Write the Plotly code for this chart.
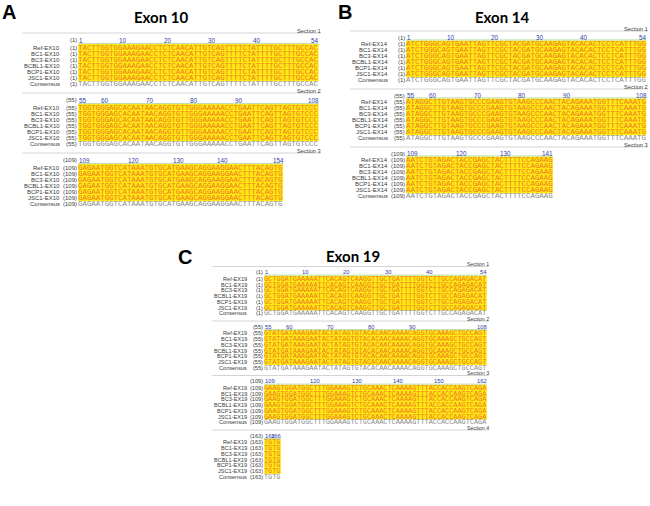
import plotly.graph_objects as go

W, H = 650, 506

SAMPLES = ["Ref", "BC1", "BC3", "BCBL1", "BCP1", "JSC1"]

EXON10_SEQ = [
    "TACTTGGTGGAAAGAACCTCTCAACATTGTCAGTTTTCTATTTTGCTTTGCCAC",
    "TGGTGGGAGCACAATAACAGGTGTTGGGAAAAACCTGAATTCAGTTAGTGTCCC",
    "GAGAATGGTCATAAATGTGCATGAAGCAGGAAGGAACTTTACAGTG",
]
EXON10_STARTS = [1, 55, 109]
EXON10_RULER = [[1, 10, 20, 30, 40, 54], [55, 60, 70, 80, 90, 108], [109, 120, 130, 140, 154]]

EXON14_SEQ = [
    "ATCTGGGCAGTGAATTAGTTCGCTACGATGCAAGAGTACACACTCCTCATTTGG",
    "ATAGGCTTGTAAGTGCCCGAAGTGTAAGCCCAACTACAGAAATGGTTTCAAATG",
    "AATCTGTAGACTACCGAGCTACTTTTCCAGAAG",
]
EXON14_STARTS = [1, 55, 109]
EXON14_RULER = [[1, 10, 20, 30, 40, 54], [55, 60, 70, 80, 90, 108], [109, 120, 130, 141]]

EXON19_SEQ = [
    "GCTGGATGAAAAATTCACAGTCAAGGTTGCTGATTTTGGTCTTGCCAGAGACAT",
    "GTATGATAAAGAATACTATAGTGTACACAACAAAACAGGTGCAAAGCTGCCAGT",
    "GAAGTGGATGGCTTTGGAAAGTCTGCAAACTCAAAAGTTTACCACCAAGTCAGA",
    "TGTG",
]
EXON19_STARTS = [1, 55, 109, 163]
EXON19_RULER = [[1, 10, 20, 30, 40, 54], [55, 60, 70, 80, 90, 108],
                [109, 120, 130, 140, 150, 162], [163, 166]]

# colours
YELLOW = "#FFE714"
SEQ_COL = "#EE7A22"
CONS_COL = "#8A8A8A"
LABEL_COL = "#3C3C3C"
RULER_COL = "#3340A8"
SECTION_LINE = "#D4D4D4"
RULER_LINE = "#B9DDA9"

# panel layout (pixel space of the page)
panels = [
    dict(letter="A", exon=10, seqs=EXON10_SEQ, starts=EXON10_STARTS, ruler=EXON10_RULER,
         x0=78.3, cw=4.45, lines=[33, 93, 153], d_ruler=7, d_ref=14.5, step=6.15, s=1.0,
         title_xy=(161, 17), letter_xy=(9, 12)),
    dict(letter="B", exon=14, seqs=EXON14_SEQ, starts=EXON14_STARTS, ruler=EXON14_RULER,
         x0=406, cw=4.45, lines=[31, 89, 147], d_ruler=6.5, d_ref=12.8, step=6.1, s=1.0,
         title_xy=(502, 17), letter_xy=(345, 12)),
    dict(letter="C", exon=19, seqs=EXON19_SEQ, starts=EXON19_STARTS, ruler=EXON19_RULER,
         x0=264.3, cw=4.12, lines=[266.5, 321, 375.5, 430], d_ruler=5.5, d_ref=12.3, step=5.75, s=0.93,
         title_xy=(353, 256), letter_xy=(185, 257)),
]

fig = go.Figure()
shapes = []
annotations = []


def label(x, y, text, size, color=LABEL_COL, xanchor="right", family="Liberation Sans", bold=False):
    annotations.append(dict(
        x=x, y=y, xref="x", yref="y", text=f"<b>{text}</b>" if bold else text,
        showarrow=False, xanchor=xanchor, yanchor="middle",
        font=dict(size=size, color=color, family=family),
        borderpad=0, borderwidth=0,
    ))


for p in panels:
    x0, cw, s = p["x0"], p["cw"], p["s"]
    full_right = x0 + 54 * cw
    fs_lab = 6.0 * s
    fs_seq = cw / 0.6  # Liberation Mono advance is 0.6em

    label(p["letter_xy"][0], p["letter_xy"][1], p["letter"], 20, "#000000", "center",
          "Liberation Sans", bold=True)
    label(p["title_xy"][0], p["title_xy"][1], f"Exon {p['exon']}", 15, "#000000", "center",
          "Lato", bold=True)

    for k, (seq, start, ticks) in enumerate(zip(p["seqs"], p["starts"], p["ruler"])):
        yl = p["lines"][k]
        n = len(seq)
        # section separator
        shapes.append(dict(type="line", xref="x", yref="y", x0=x0 - 56 * s, x1=full_right + 2,
                           y0=yl, y1=yl, line=dict(color=SECTION_LINE, width=1)))
        label(full_right + 2, yl - 2.2, f"Section {k + 1}", fs_lab * 0.95)

        # ruler
        yr = yl + p["d_ruler"]
        label(x0 - 1.5, yr, f"({start})", fs_lab)
        for i, t in enumerate(ticks):
            col = t - start
            if i == len(ticks) - 1:
                label(x0 + (col + 1) * cw + 0.5, yr, str(t), fs_lab * 1.05, RULER_COL, "right")
            elif i == 0:
                label(x0 + 0.6, yr, str(t), fs_lab * 1.05, RULER_COL, "left")
            else:
                label(x0 + col * cw + 0.8, yr, str(t), fs_lab * 1.05, RULER_COL, "left")

        # yellow identity block
        yref = yl + p["d_ref"]
        top = yref - p["step"] * 0.55
        bot = yref + 5 * p["step"] + p["step"] * 0.5
        shapes.append(dict(type="rect", xref="x", yref="y", x0=x0, x1=x0 + n * cw,
                           y0=top, y1=bot, fillcolor=YELLOW, line=dict(width=0), layer="below"))
        shapes.append(dict(type="line", xref="x", yref="y", x0=x0, x1=x0 + n * cw,
                           y0=top - 0.5, y1=top - 0.5, line=dict(color=RULER_LINE, width=1)))

        rows = [f"{name}-EX{p['exon']}" for name in SAMPLES] + ["Consensus"]
        for r, rowname in enumerate(rows):
            yy = yref + r * p["step"]
            label(x0 - 18.3 * s, yy, rowname, fs_lab)
            label(x0 - 1.5, yy, f"({start})", fs_lab)
            label(x0, yy, seq, fs_seq, SEQ_COL if r < 6 else CONS_COL, "left", "Liberation Mono")

fig.update_layout(
    width=W, height=H,
    margin=dict(l=0, r=0, t=0, b=0),
    paper_bgcolor="white", plot_bgcolor="white",
    xaxis=dict(range=[0, W], visible=False, fixedrange=True),
    yaxis=dict(range=[H, 0], visible=False, fixedrange=True),
    shapes=shapes,
    annotations=annotations,
    showlegend=False,
)

# drop the browser's default body margin so the figure sits at the page corner
fig.write_html("out.html", config={"displayModeBar": False},
               post_script="document.body.style.margin='0';")
